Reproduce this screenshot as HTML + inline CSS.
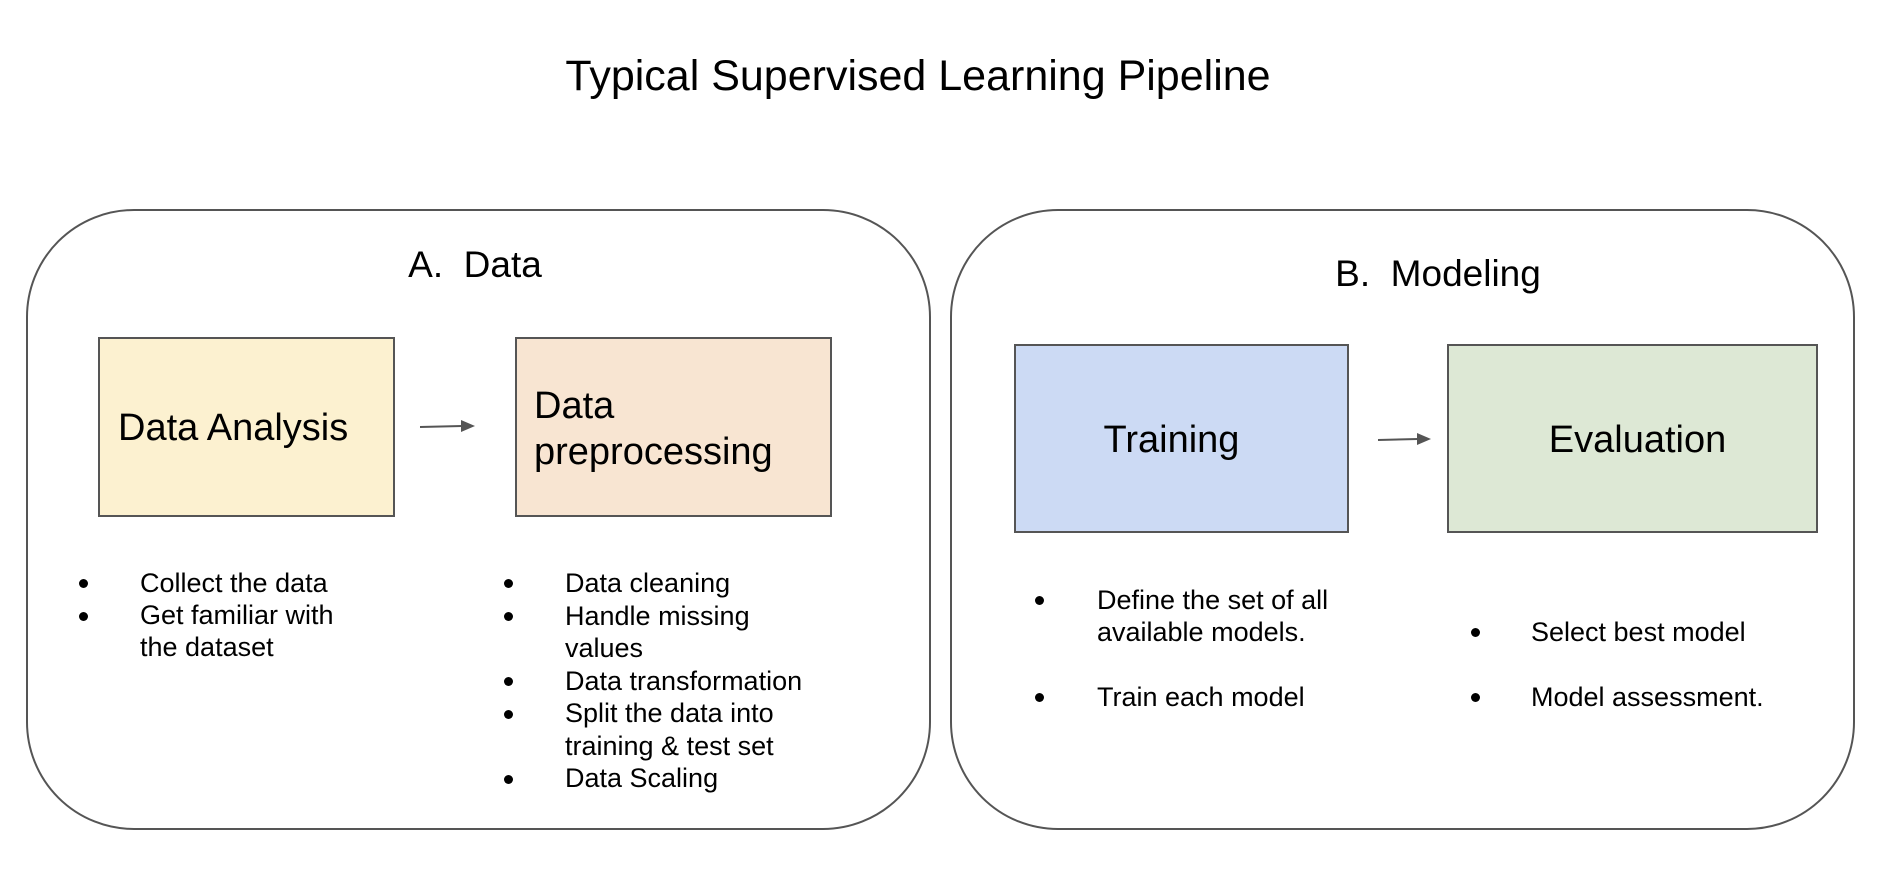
<!DOCTYPE html>
<html><head><style>
body{margin:0;width:1881px;height:883px;background:#fff;position:relative;overflow:hidden;font-family:"Liberation Sans",Arial,sans-serif;color:#000}
.a{position:absolute;white-space:nowrap}
.panel{position:absolute;border:2px solid #555;border-radius:108px;box-sizing:border-box}
.box{position:absolute;border:2px solid #555;box-sizing:border-box}
.li{position:absolute;font-size:27px;line-height:32px;white-space:nowrap}
.dot{position:absolute;width:9px;height:9px;border-radius:50%;background:#000}
</style></head><body>
<div class="a" style="left:0;width:1836px;text-align:center;top:50px;font-size:43px;line-height:52px">Typical Supervised Learning Pipeline</div>

<div class="panel" style="left:26px;top:209px;width:905px;height:621px"></div>
<div class="panel" style="left:950px;top:209px;width:905px;height:621px"></div>

<div class="a" style="left:375px;width:200px;text-align:center;top:244px;font-size:37px;line-height:42px">A.&nbsp; Data</div>
<div class="a" style="left:1288px;width:300px;text-align:center;top:253px;font-size:37px;line-height:42px">B.&nbsp; Modeling</div>

<div class="box" style="left:98px;top:337px;width:297px;height:180px;background:#fcf1d0"></div>
<div class="a" style="left:118px;top:407px;font-size:38px;line-height:42px">Data Analysis</div>
<div class="box" style="left:515px;top:337px;width:317px;height:180px;background:#f8e5d2"></div>
<div class="a" style="left:534px;top:383px;font-size:38px;line-height:46px">Data<br>preprocessing</div>

<div class="box" style="left:1014px;top:344px;width:335px;height:189px;background:#ccdaf4"></div>
<div class="a" style="left:1004px;width:335px;text-align:center;top:419px;font-size:38px;line-height:42px">Training</div>
<div class="box" style="left:1447px;top:344px;width:371px;height:189px;background:#dde8d5"></div>
<div class="a" style="left:1452px;width:371px;text-align:center;top:419px;font-size:38px;line-height:42px">Evaluation</div>

<svg class="a" style="left:0;top:0" width="1881" height="883">
<line x1="420" y1="427" x2="462" y2="426" stroke="#555" stroke-width="2"/>
<polygon points="475,426 461,420 461,432" fill="#555"/>
<line x1="1378" y1="440" x2="1418" y2="439" stroke="#555" stroke-width="2"/>
<polygon points="1431,439 1417,433 1417,445" fill="#555"/>
</svg>

<div class="dot" style="left:79px;top:579px"></div>
<div class="dot" style="left:79px;top:612px"></div>
<div class="li" style="left:140px;top:567px">Collect the data<br>Get familiar with<br>the dataset</div>

<div class="dot" style="left:504px;top:579px"></div>
<div class="dot" style="left:504px;top:612px"></div>
<div class="dot" style="left:504px;top:677px"></div>
<div class="dot" style="left:504px;top:710px"></div>
<div class="dot" style="left:504px;top:775px"></div>
<div class="li" style="left:565px;top:567px;line-height:32.5px">Data cleaning<br>Handle missing<br>values<br>Data transformation<br>Split the data into<br>training &amp; test set<br>Data Scaling</div>

<div class="dot" style="left:1035px;top:596px"></div>
<div class="dot" style="left:1035px;top:693px"></div>
<div class="li" style="left:1097px;top:584px">Define the set of all<br>available models.</div>
<div class="li" style="left:1097px;top:681px">Train each model</div>

<div class="dot" style="left:1471px;top:628px"></div>
<div class="dot" style="left:1471px;top:693px"></div>
<div class="li" style="left:1531px;top:616px">Select best model</div>
<div class="li" style="left:1531px;top:681px">Model assessment.</div>
</body></html>
